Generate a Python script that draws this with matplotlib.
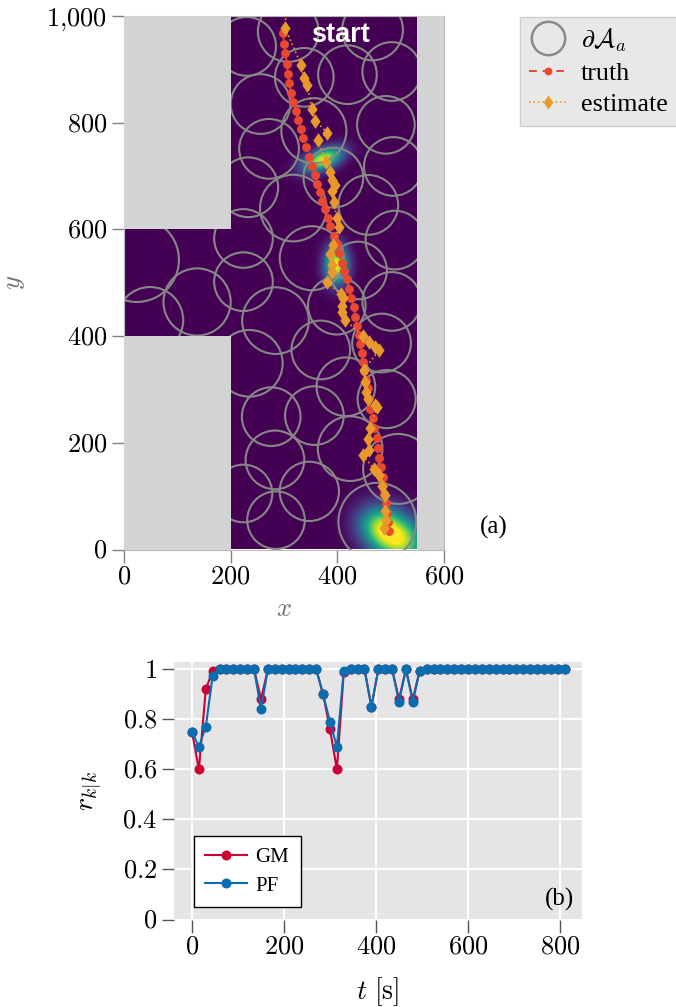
import numpy as np
import matplotlib
matplotlib.use('Agg')
import matplotlib.pyplot as plt
from matplotlib.patches import Circle, Rectangle
from matplotlib.lines import Line2D

plt.rcParams['font.family'] = ['Liberation Serif', 'DejaVu Serif']
plt.rcParams['mathtext.fontset'] = 'cm'

# sensor areas (x, y, radius)
circle_x = [230, 308, 466, 338, 419, 502, 256, 356, 491, 272, 392.5, 505, 233, 458, 317.5, 224, 508, 352, 439, 224,
            137, 24, 49, 284, 399, 502, 235, 369, 483, 416, 492.5, 276, 357, 424, 283, 514, 224, 347.5, 285, 475]
circle_y = [943, 971, 974, 885, 890, 896, 835, 785, 796, 751, 697, 718, 679, 646, 640, 583, 580, 546, 523, 502,
            464, 543, 430, 429, 457, 465, 349, 374, 387, 305, 282, 249, 251, 189, 168, 151, 105, 109, 55, 52]
circle_r = [55, 57, 57, 55, 55, 55, 56, 61, 54, 56, 56, 55, 56, 56, 62.5, 55, 55, 60, 54, 55,
            63, 79, 62, 62.5, 54, 55, 62.5, 55, 55, 55, 54.5, 55, 55, 60.6, 55, 65.6, 54, 55.6, 54, 73]

truth_x = [297.5, 300.6, 302.5, 305.6, 307.5, 310, 313.1, 317.5, 322.5, 326.9, 331.3, 336.3, 341.9, 346.9,
           353.1, 358.1, 362.5, 367.5, 371.9, 377.5, 381.9, 386.9, 393.1, 398.8, 403.1, 408.1, 413.1, 417.5,
           422.5, 425.6, 430.6, 433.8, 437.5, 440, 443.1, 446.3, 448.1, 450.6, 453.1, 458.1, 458.1, 461.9,
           466.3, 469.4, 473.8, 476.3, 478.8, 482.5, 485, 486.3, 488.1, 491.3, 493.8, 494.4, 496.3]
truth_y = [967.5, 948.2, 930, 910, 891.3, 873.8, 856.3, 839.4, 822.6, 805.1, 788.2, 771.3, 753.8, 736.3,
           719.5, 702.6, 685.7, 669.5, 653.2, 637.6, 621.4, 605.8, 588.3, 572, 555.2, 537.7, 522.7, 506.4,
           488.3, 471.4, 455.2, 436.4, 418.9, 402.1, 385.2, 368.9, 350.8, 334.6, 317.7, 302.1, 283.4, 263.4,
           245.9, 227.7, 208.4, 190.9, 172.1, 154, 136.5, 120.9, 104, 86.5, 69, 52.2, 35.3]

est_x = [304, 301.9, 332.5, 337.5, 343.8, 352.5, 358.1, 381.3, 363.1, 379.4, 385.6, 390.6, 395.6, 389.4, 393.8,
         398.8, 403.8, 391.3, 386.9, 389.4, 390.6, 380, 406.3, 411.3, 408.8, 408.8, 414.4, 447.5, 458.8, 470.6,
         478.8, 449.4, 451.9, 453.8, 456.9, 470.6, 475, 460.6, 458.1, 460, 447.5, 468.8, 478.8, 484.4, 489.4,
         489.4, 490.6, 487.5]
est_y = [1012, 978.1, 907.5, 883.2, 870.7, 825.1, 803.8, 781.3, 767.6, 725.7, 708.2, 692.6, 683.2, 672.6, 650.7,
         621.4, 605.1, 570.8, 554, 533.3, 520.7, 502, 478.9, 470.8, 456.4, 445.8, 430.2, 400.8, 388.3, 379,
         374, 336.5, 314.6, 295.8, 281.5, 270.9, 267.7, 227.1, 207.1, 185.9, 177.8, 150.3, 140.3, 119.7, 102.2,
         71.6, 55.3, 39.7]

# density blobs: centre, spread along/across, tilt in degrees, height
blob_x = [517, 478, 398, 372]
blob_y = [16, 42, 532, 730]
blob_long = [36, 30, 24, 27]
blob_short = [30, 27, 15, 13]
blob_tilt = [-35, -35, 90, 22]
blob_amp = [0.85, 0.6, 1.0, 0.95]

t = [0, 15, 30, 45, 60, 75, 90, 105, 120, 135, 150, 165, 180, 195, 210, 225, 240, 255, 270, 285, 300, 315,
     330, 345, 360, 375, 390, 405, 420, 435, 450, 465, 480, 495, 510, 525, 540, 555, 570, 585, 600, 615,
     630, 645, 660, 675, 690, 705, 720, 735, 750, 765, 780, 795, 810]
r_gm = [0.75, 0.60, 0.92, 0.995, 1, 1, 1, 1, 1, 1, 0.88, 1, 1, 1, 1, 1, 1, 1, 1, 0.90, 0.76, 0.60,
        0.99, 1, 1, 1, 0.85, 1, 1, 1, 0.88, 1, 0.88, 0.995, 1, 1, 1, 1, 1, 1, 1, 1,
        1, 1, 1, 1, 1, 1, 1, 1, 1, 1, 1, 1, 1]
r_pf = [0.75, 0.69, 0.77, 0.975, 1, 1, 1, 1, 1, 1, 0.84, 1, 1, 1, 1, 1, 1, 1, 1, 0.90, 0.79, 0.69,
        0.995, 1, 1, 1, 0.85, 1, 1, 1, 0.87, 1, 0.87, 0.995, 1, 1, 1, 1, 1, 1, 1, 1,
        1, 1, 1, 1, 1, 1, 1, 1, 1, 1, 1, 1, 1]

xticks_a = [0, 200, 400, 600]
yticks_a = [0, 200, 400, 600, 800, 1000]
yticklabels_a = ['$0$', '$200$', '$400$', '$600$', '$800$', '$1{,}000$']
xticks_b = [0, 200, 400, 600, 800]
yticks_b = [0, 0.2, 0.4, 0.6, 0.8, 1]
yticklabels_b = ['$0$', '$0.2$', '$0.4$', '$0.6$', '$0.8$', '$1$']

W, H = 676, 1007
WALL = '#d3d3d3'
RED = '#e8482f'
ORANGE = '#e8992c'
GM = '#cc0033'
PF = '#0a6db0'
TICK_SIZE = 19
DIAMOND = [(0, 1), (0.7, 0), (0, -1), (-0.7, 0), (0, 1)]


def box(left, right, top, bottom):
    return [left / W, 1 - bottom / H, (right - left) / W, (bottom - top) / H]


def density():
    xs = np.arange(0, 551, 2.0)
    ys = np.arange(0, 1001, 2.0)
    gx, gy = np.meshgrid(xs, ys)
    z = np.zeros_like(gx)
    for x0, y0, sl, ss, tilt, amp in zip(blob_x, blob_y, blob_long, blob_short, blob_tilt, blob_amp):
        a = np.radians(tilt)
        u = (gx - x0) * np.cos(a) + (gy - y0) * np.sin(a)
        v = -(gx - x0) * np.sin(a) + (gy - y0) * np.cos(a)
        z += amp * np.exp(-0.5 * (u / sl) ** 2 - 0.5 * (v / ss) ** 2)
    return z


def style_ticks(ax, color):
    ax.tick_params(axis='both', direction='out', length=9, width=1, color=color,
                   labelsize=TICK_SIZE, pad=3)


fig = plt.figure(figsize=(W / 100, H / 100), dpi=100)

# panel (a)
ax = fig.add_axes(box(124, 444, 16, 549.5))
ax.imshow(density(), origin='lower', extent=[0, 550, 0, 1000], cmap='viridis', vmin=0, vmax=1,
          aspect='auto', interpolation='bilinear', zorder=1)
for cx, cy, r in zip(circle_x, circle_y, circle_r):
    ax.add_patch(Circle((cx, cy), r, fill=False, ec='#878787', lw=1.5, zorder=2))
ax.add_patch(Rectangle((0, 600), 200, 400, fc=WALL, ec='none', zorder=3))
ax.add_patch(Rectangle((0, 0), 200, 400, fc=WALL, ec='none', zorder=3))
ax.add_patch(Rectangle((550, 0), 50, 1000, fc=WALL, ec='none', zorder=3))
ax.plot(truth_x, truth_y, ls='--', lw=1.4, color=RED, marker='o', ms=6.4, mew=0, zorder=4)
ax.plot(est_x, est_y, ls=':', lw=1.2, color=ORANGE, marker=DIAMOND, ms=10.5, mew=0, zorder=5)
ax.text(406, 965, 'start', color='white', family='Liberation Sans', weight='bold', fontsize=19.5,
        ha='center', va='center', zorder=6)
ax.set_xlim(0, 600)
ax.set_ylim(0, 1000)
ax.set_xticks(xticks_a)
ax.set_xticklabels([f'${v}$' for v in xticks_a])
ax.set_yticks(yticks_a)
ax.set_yticklabels(yticklabels_a)
style_ticks(ax, '#808080')
for s in ax.spines.values():
    s.set_color('#b8b8b8')
    s.set_linewidth(0.8)
ax.set_xlabel('$x$', color='#707070', fontsize=19)
ax.xaxis.set_label_coords(0.5, -0.092)
ax.set_ylabel('$y$', color='#707070', fontsize=19)
ax.yaxis.set_label_coords((27 - 124) / 320, 0.5)

handles = [
    Line2D([], [], ls='none', marker='o', ms=24, mfc='none', mec='#8a8a8a', mew=1.8),
    Line2D([], [], lw=1.4, color=RED, dashes=(4, 3), marker='o', ms=5.6, mew=0),
    Line2D([], [], ls=':', lw=1.2, color=ORANGE, marker=DIAMOND, ms=10, mew=0),
]
leg = fig.legend(handles, [r'$\partial\mathcal{A}_a$', 'truth', 'estimate'], loc='upper left',
                 bbox_to_anchor=(520 / W, 1 - 17 / H), bbox_transform=fig.transFigure, fontsize=18.7,
                 fancybox=False, framealpha=1, facecolor='#e8e8e8', edgecolor='#cfcfcf',
                 labelspacing=0.32, handlelength=1.46, handletextpad=0.54, borderaxespad=0, borderpad=0.35)
leg.get_frame().set_linewidth(1)
fig.text(494 / W, 1 - 527 / H, '(a)', fontsize=18, ha='center', va='center')

# panel (b)
ax2 = fig.add_axes(box(174, 582, 662, 919.5))
ax2.set_facecolor('#e5e5e5')
ax2.grid(True, color='white', lw=1.4)
ax2.set_axisbelow(True)
ax2.plot(t, r_gm, color=GM, lw=1.5, marker='o', ms=7.2, mew=0, label='GM')
ax2.plot(t, r_pf, color=PF, lw=1.5, marker='o', ms=7.2, mew=0, label='PF')
ax2.set_xlim(-39.1, 847.8)
ax2.set_ylim(0, 1.029)
ax2.set_xticks(xticks_b)
ax2.set_xticklabels([f'${v}$' for v in xticks_b])
ax2.set_yticks(yticks_b)
ax2.set_yticklabels(yticklabels_b)
style_ticks(ax2, '#555555')
for s in ax2.spines.values():
    s.set_visible(False)
ax2.set_xlabel(r'$t\ [\mathrm{s}]$', fontsize=20)
ax2.xaxis.set_label_coords(0.5, -0.215)
ax2.set_ylabel(r'$r_{k|k}$', fontsize=20)
ax2.yaxis.set_label_coords((103 - 174) / 408, 0.5)
leg2 = ax2.legend(loc='lower left', bbox_to_anchor=((194 - 174) / 408, (919.5 - 907) / 257.5), fontsize=15,
                  fancybox=False, framealpha=1, facecolor='white', edgecolor='black',
                  borderaxespad=0, handlelength=2.0, handletextpad=0.4, labelspacing=0.42, borderpad=0.55)
leg2.get_frame().set_linewidth(1)
fig.text(560 / W, 1 - 899 / H, '(b)', fontsize=18, ha='center', va='center')

fig.savefig('out.png', dpi=100)
